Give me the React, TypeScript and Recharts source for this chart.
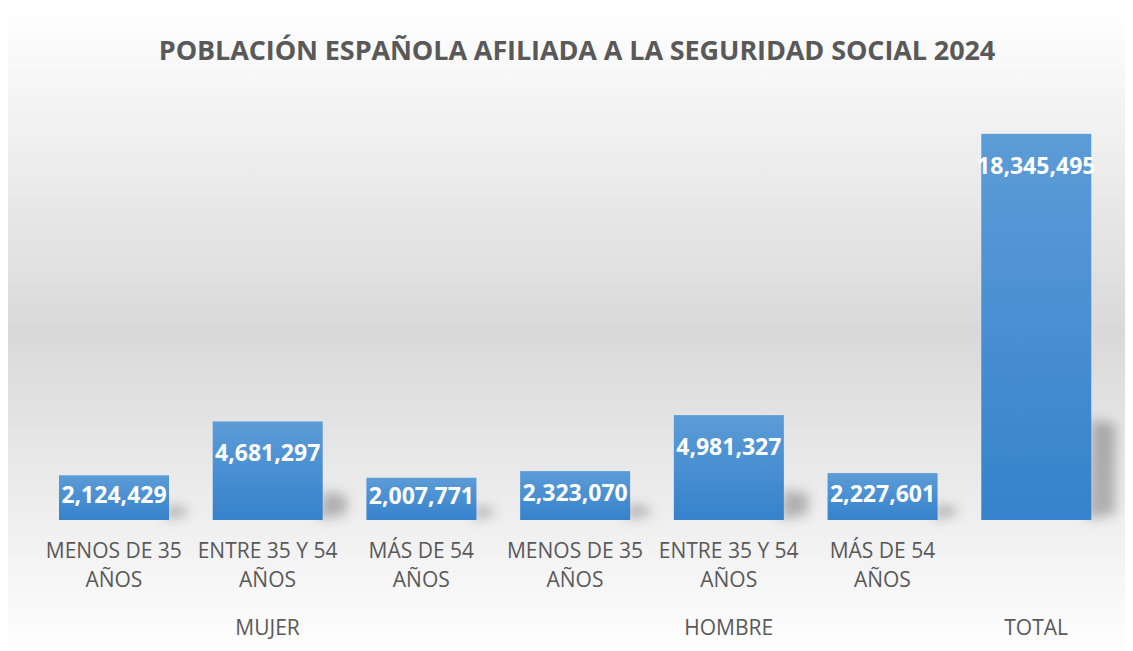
import {BarChart, Bar, XAxis, YAxis, LabelList} from 'recharts';

const ageLabels = [
    'MENOS DE 35 AÑOS',
    'ENTRE 35 Y 54 AÑOS',
    'MÁS DE 54 AÑOS',
    'MENOS DE 35 AÑOS',
    'ENTRE 35 Y 54 AÑOS',
    'MÁS DE 54 AÑOS',
    '',
];
const groups = ['MUJER', 'MUJER', 'MUJER', 'HOMBRE', 'HOMBRE', 'HOMBRE', 'TOTAL'];
const values = [2124429, 4681297, 2007771, 2323070, 4981327, 2227601, 18345495];
const yMax = 20000000;

const data = values.map((v, i) => ({name: ageLabels[i] || groups[i], group: groups[i], value: v}));

// index of the middle category of each group, where the group label sits
const groupMid: Record<number, string> = {};
groups.forEach((g, i) => {
    if (i > 0 && groups[i - 1] === g) return;
    let end = i;
    while (end + 1 < groups.length && groups[end + 1] === g) end++;
    groupMid[Math.floor((i + end) / 2)] = g;
});

const FONT = '"Open Sans", "Noto Sans", sans-serif';
const TEXT = '#595959';

function CategoryTick(props: any) {
    const {x, y, payload} = props;
    const idx = payload.index;
    const label = ageLabels[idx];
    const cut = label.lastIndexOf(' ');
    const l1 = cut > 0 ? label.slice(0, cut) : label;
    const l2 = cut > 0 ? label.slice(cut + 1) : '';
    const top = y - 8;
    return (
        <g fontFamily={FONT} fontSize={21} fill={TEXT}>
            {l1 && <text x={x} y={top + 30} textAnchor="middle" dominantBaseline="central">{l1}</text>}
            {l2 && <text x={x} y={top + 59} textAnchor="middle" dominantBaseline="central">{l2}</text>}
            {groupMid[idx] && (
                <text x={x} y={top + 107} textAnchor="middle" dominantBaseline="central">{groupMid[idx]}</text>
            )}
        </g>
    );
}

// bar with a soft perspective shadow falling to the right
function ShadowBar(props: any) {
    const {x, y, width, height} = props;
    const base = y + height;
    const sh = height * 0.25;
    const reach = Math.min(sh + 8, 24);
    return (
        <g>
            <polygon
                points={`${x + width - 4},${base} ${x + width + reach},${base - 6} ${x + width + reach},${base - sh} ${x + width},${base - sh - 4}`}
                fill="rgba(0,0,0,0.26)"
                filter="url(#barShadow)"
            />
            <rect x={x} y={y} width={width} height={height} fill="url(#barFill)"/>
        </g>
    );
}

function ValueLabel(props: any) {
    const {x, y, width, height, value} = props;
    const cy = y + Math.min(31, height / 2 - 4);
    return (
        <text
            x={x + width / 2}
            y={cy}
            textAnchor="middle"
            dominantBaseline="central"
            fill="#ffffff"
            fontFamily={FONT}
            fontWeight={700}
            fontSize={23}
        >
            {Number(value).toLocaleString('en-US')}
        </text>
    );
}

export default function App() {
    return (
        <div
            style={{
                position: 'relative',
                width: 1138,
                height: 650,
                margin: '-2px 0 0 -2px',
                borderLeft: '2px solid #d9d9d9',
                borderTop: '2px solid #d9d9d9',
                background: 'linear-gradient(to bottom, #ffffff 0%, #d9d9d9 50%, #ffffff 100%)',
                overflow: 'hidden',
            }}
        >
            <div
                style={{
                    position: 'absolute',
                    left: 0,
                    right: 0,
                    top: 23,
                    textAlign: 'center',
                    fontFamily: FONT,
                    fontWeight: 700,
                    fontSize: 27,
                    color: TEXT,
                    letterSpacing: -0.1,
                }}
            >
                POBLACIÓN ESPAÑOLA AFILIADA A LA SEGURIDAD SOCIAL 2024
            </div>
            <BarChart
                width={1138}
                height={650}
                data={data}
                margin={{top: 91, right: 33, bottom: 0, left: 29}}
                style={{position: 'absolute', left: 0, top: 0}}
            >
                <defs>
                    <linearGradient id="barFill" x1="0" y1="0" x2="0" y2="1">
                        <stop offset="0%" stopColor="#5c9cd7"/>
                        <stop offset="100%" stopColor="#3682cc"/>
                    </linearGradient>
                    <filter id="barShadow" x="-100%" y="-100%" width="300%" height="300%">
                        <feGaussianBlur stdDeviation="6"/>
                    </filter>
                </defs>
                <XAxis
                    dataKey="name"
                    axisLine={false}
                    tickLine={false}
                    interval={0}
                    height={138}
                    tick={<CategoryTick/>}
                />
                <YAxis hide domain={[0, yMax]}/>
                <Bar dataKey="value" barSize={110} shape={<ShadowBar/>} isAnimationActive={false}>
                    <LabelList dataKey="value" content={<ValueLabel/>}/>
                </Bar>
            </BarChart>
        </div>
    );
}
